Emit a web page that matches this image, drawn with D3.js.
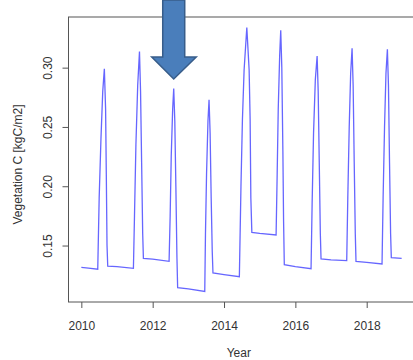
<!DOCTYPE html>
<html>
<head>
<meta charset="utf-8">
<script src="https://cdn.jsdelivr.net/npm/d3@7"></script>
<style>
  body { margin: 0; background: #fff; }
  svg text { font-family: "Liberation Sans", Arial, sans-serif; fill: #333; }
</style>
</head>
<body>
<svg id="chart" width="413" height="360"></svg>
<script>
// decimal year of each sample
const years = [
  2010.00, 2010.20, 2010.46, 2010.50, 2010.55, 2010.60, 2010.645, 2010.68, 2010.70, 2010.72, 2010.74,
  2011.00, 2011.46, 2011.49, 2011.53, 2011.58, 2011.63, 2011.66, 2011.69, 2011.72, 2011.74,
  2012.00, 2012.46, 2012.49, 2012.52, 2012.56, 2012.59, 2012.62, 2012.65, 2012.68, 2012.70,
  2013.00, 2013.46, 2013.48, 2013.51, 2013.55, 2013.58, 2013.61, 2013.64, 2013.67, 2013.69,
  2014.00, 2014.43, 2014.475, 2014.516, 2014.563, 2014.639, 2014.704, 2014.732, 2014.752, 2014.78,
  2015.00, 2015.46, 2015.49, 2015.52, 2015.56, 2015.59, 2015.62, 2015.65, 2015.67, 2015.69,
  2016.00, 2016.44, 2016.47, 2016.51, 2016.56, 2016.61, 2016.64, 2016.67, 2016.70, 2016.72,
  2017.00, 2017.44, 2017.47, 2017.51, 2017.55, 2017.59, 2017.62, 2017.65, 2017.68, 2017.70,
  2018.00, 2018.43, 2018.46, 2018.50, 2018.54, 2018.58, 2018.61, 2018.64, 2018.67, 2018.69,
  2018.98
];
// vegetation carbon, kgC/m2
const vegC = [
  0.1316, 0.1310, 0.1300, 0.190, 0.240, 0.280, 0.2990, 0.265, 0.210, 0.150, 0.1326,
  0.1322, 0.1308, 0.175, 0.235, 0.285, 0.3135, 0.280, 0.220, 0.160, 0.1392,
  0.1385, 0.1367, 0.175, 0.225, 0.265, 0.2823, 0.255, 0.200, 0.140, 0.1144,
  0.1135, 0.1113, 0.160, 0.210, 0.255, 0.2730, 0.245, 0.190, 0.145, 0.1269,
  0.1255, 0.1237, 0.200, 0.256, 0.298, 0.3338, 0.298, 0.256, 0.190, 0.1611,
  0.1602, 0.1589, 0.210, 0.265, 0.310, 0.3315, 0.300, 0.230, 0.170, 0.1339,
  0.1322, 0.1305, 0.185, 0.245, 0.290, 0.3098, 0.280, 0.220, 0.160, 0.1387,
  0.1380, 0.1373, 0.190, 0.250, 0.295, 0.3163, 0.285, 0.220, 0.160, 0.1367,
  0.1358, 0.1345, 0.190, 0.250, 0.295, 0.3155, 0.285, 0.220, 0.160, 0.1398,
  0.1392
];
const xTicks = [2010, 2012, 2014, 2016, 2018];
const yTicks = [0.15, 0.20, 0.25, 0.30];
const arrowYear = 2012.59; // peak the arrow points at

const svg = d3.select("#chart");
const plotL = 68.5, plotR = 414.5, plotT = 17, plotB = 302;

const x = d3.scaleLinear().domain([2009.64, 2019.34]).range([plotL, plotR]);
const y = d3.scaleLinear().domain([0.1024, 0.3427]).range([plotB, plotT]);

// box
svg.append("rect")
  .attr("x", plotL).attr("y", plotT)
  .attr("width", plotR - plotL).attr("height", plotB - plotT)
  .attr("fill", "none").attr("stroke", "#555").attr("stroke-width", 1);

// x axis
const xAxis = svg.append("g")
  .attr("transform", `translate(0,${plotB})`)
  .call(d3.axisBottom(x).tickValues(xTicks).tickFormat(d3.format("d")).tickSize(6).tickPadding(13));
xAxis.select(".domain").remove();
xAxis.selectAll("line").attr("stroke", "#555");
xAxis.selectAll("text").attr("font-size", 12).attr("fill", "#333")
  .style("font-family", "'Liberation Sans', Arial, sans-serif");

// y axis
const yAxis = svg.append("g")
  .attr("transform", `translate(${plotL},0)`)
  .call(d3.axisLeft(y).tickValues(yTicks).tickFormat(d3.format(".2f")).tickSize(6));
yAxis.select(".domain").remove();
yAxis.selectAll("line").attr("stroke", "#555");
yAxis.selectAll("text").remove();
yAxis.selectAll(".tick").append("text")
  .attr("transform", "translate(-17,0) rotate(-90)")
  .attr("text-anchor", "middle")
  .attr("font-size", 12)
  .attr("fill", "#333")
  .style("font-family", "'Liberation Sans', Arial, sans-serif")
  .text(d => d3.format(".2f")(d));

// series
const data = years.map((t, i) => [t, vegC[i]]);
svg.append("path")
  .datum(data)
  .attr("fill", "none")
  .attr("stroke", "#3333ff")
  .attr("stroke-opacity", 0.75)
  .attr("stroke-width", 1.3)
  .attr("d", d3.line().x(d => x(d[0])).y(d => y(d[1])));

// axis titles
svg.append("text")
  .attr("x", (plotL + 413) / 2 - 2).attr("y", 357)
  .attr("text-anchor", "middle").attr("font-size", 12)
  .text("Year");
svg.append("text")
  .attr("transform", `translate(22,${(plotT + plotB) / 2 + 5}) rotate(-90)`)
  .attr("text-anchor", "middle").attr("font-size", 12)
  .text("Vegetation C [kgC/m2]");

// block arrow pointing at the 2012 peak
const ax = x(arrowYear);
const arrow = [
  [ax - 11, 0], [ax + 11, 0], [ax + 11, 57], [ax + 22.5, 57],
  [ax, 79], [ax - 22, 57], [ax - 11, 57]
];
svg.append("path")
  .attr("d", d3.line()(arrow) + "Z")
  .attr("fill", "#4a7ebb")
  .attr("stroke", "#385d8a")
  .attr("stroke-width", 1.5);
</script>
</body>
</html>
